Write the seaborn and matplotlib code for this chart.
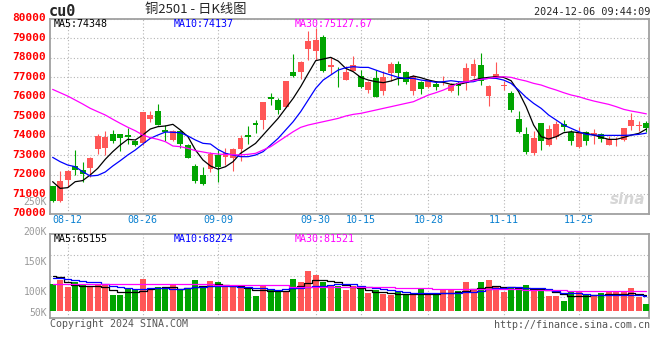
import matplotlib
matplotlib.use("Agg")
import matplotlib.pyplot as plt
import matplotlib.transforms as mtransforms
import numpy as np
import seaborn as sns

# trading days 08-08 .. 12-06, 80 candles
date_labels = ["08-12", "08-26", "09-09", "09-30", "10-15", "10-28", "11-11", "11-25"]
date_idx = [2, 12, 22, 35, 41, 50, 60, 70]

opens = [71440, 70652, 71730, 72450, 72245, 72330, 73340, 73390, 74075, 74075,
         74023, 73733, 73647, 74880, 75273, 74297, 73784, 74263, 73510, 72450,
         71988, 72300, 73020, 72893, 72859, 73338, 74023, 74656, 74828, 75975,
         75838, 75461, 77276, 77259, 78474, 78372, 79074, 77516, 76934, 76865,
         77345, 77053, 76369, 76968, 76317, 77225, 77687, 77276, 76283, 76762,
         76506, 76677, 76797, 76283, 76711, 76711, 77053, 77618, 76045, 77002,
         76540, 76197, 74862, 74092, 73116, 74657, 73544, 73920, 74605, 74194,
         73407, 74194, 74023, 74092, 73544, 73715, 73800, 74520, 74503, 74640]
highs = [71440, 72193, 72260, 73270, 72655, 72930, 74075, 74265, 74298, 74092,
         74400, 73785, 75205, 75273, 75650, 74554, 74300, 74290, 73561, 72570,
         72381, 73170, 73287, 73373, 73373, 74023, 74485, 74828, 75718, 76180,
         75940, 76831, 78200, 77824, 79365, 79536, 79193, 78029, 77516, 77567,
         78115, 77362, 76796, 77396, 77310, 77790, 77858, 77345, 77139, 76831,
         76934, 76797, 77088, 76711, 76797, 77738, 77944, 78252, 76600, 77790,
         76831, 76317, 75256, 74434, 74229, 74657, 74537, 74776, 74794, 74314,
         74468, 74263, 74348, 74126, 73972, 73920, 74400, 75170, 74776, 74742]
lows = [70600, 70618, 71388, 71988, 71645, 71900, 73066, 73015, 73613, 73237,
        73580, 73476, 73510, 74726, 74571, 73750, 73750, 73390, 72860, 71594,
        71474, 72165, 71630, 72517, 72208, 72688, 73578, 74143, 74348, 75564,
        75119, 75461, 77036, 76916, 77909, 77909, 77276, 77173, 76488, 76865,
        77310, 76454, 76198, 76009, 76112, 76797, 76626, 76677, 76112, 76163,
        76454, 76369, 76626, 76249, 76112, 76369, 76968, 76626, 75531, 76968,
        76369, 75222, 74143, 73064, 72996, 73287, 73458, 73852, 74263, 73544,
        73373, 73510, 73595, 73681, 73510, 73458, 73750, 74314, 74229, 74194]
closes = [70652, 71680, 72210, 72245, 72022, 72860, 73990, 73920, 73733, 73904,
          73955, 73510, 75205, 75050, 74571, 74194, 74263, 73579, 72877, 71696,
          71508, 73075, 72405, 73116, 73321, 73886, 73955, 74537, 75718, 75889,
          75342, 76831, 77088, 77790, 78885, 78920, 77344, 77618, 76899, 77276,
          77618, 76506, 76762, 76009, 77002, 77687, 77225, 76745, 77053, 76420,
          76882, 76523, 76831, 76626, 76574, 77481, 77687, 76797, 76559, 77173,
          76591, 75341, 74194, 73167, 73886, 73749, 74348, 74605, 74451, 73749,
          74194, 73749, 74126, 73852, 73852, 73749, 74400, 74828, 74537, 74400]

ma5 = [71645, 71300, 71337, 71643, 71700, 71990, 72330, 72793, 73187, 73530,
       73820, 73787, 74043, 74350, 74470, 74505, 74590, 74300, 73958, 73273,
       72760, 72450, 72290, 72414, 72670, 73100, 73355, 73612, 74040, 74470,
       74896, 75410, 75924, 76523, 77200, 77860, 77944, 78030, 77840, 77464,
       77293, 77000, 76865, 76780, 76730, 76814, 76950, 76950, 77070, 76985,
       76865, 76780, 76745, 76643, 76643, 76728, 76865, 76950, 77002, 77036,
       77002, 76831, 76266, 75495, 74554, 73955, 73835, 73955, 74160, 74212,
       74160, 74126, 74040, 73920, 73818, 73818, 73920, 74040, 74126, 74348]
ma10 = [72894, 72672, 72500, 72415, 72158, 71936, 71970, 72141, 72450, 72724,
        73015, 73272, 73580, 73871, 74040, 74195, 74180, 74160, 73990, 73786,
        73615, 73580, 73300, 73100, 73013, 72929, 72929, 73013, 73184, 73526,
        73868, 74297, 74725, 75239, 75838, 76437, 76865, 77122, 77378, 77498,
        77550, 77515, 77515, 77378, 77241, 77122, 77002, 76950, 76950, 76865,
        76814, 76746, 76780, 76831, 76780, 76760, 76780, 76900, 76950, 76950,
        76865, 76694, 76352, 75975, 75667, 75410, 75067, 74810, 74554, 74383,
        74212, 74075, 74040, 74023, 74023, 74023, 74023, 74040, 74075, 74137]
ma30 = [76385, 76214, 76043, 75840, 75634, 75413, 75240, 75070, 74850, 74640,
        74440, 74260, 74040, 73905, 73820, 73700, 73477, 73442, 73357, 73237,
        73170, 73100, 73065, 73040, 73030, 73020, 73050, 73100, 73270, 73440,
        73700, 73955, 74210, 74434, 74554, 74640, 74725, 74810, 74896, 75016,
        75102, 75153, 75239, 75324, 75410, 75495, 75581, 75667, 75752, 75924,
        76095, 76215, 76352, 76523, 76694, 76780, 76831, 76900, 76950, 77002,
        77036, 77002, 76900, 76814, 76694, 76609, 76472, 76352, 76215, 76095,
        76010, 75890, 75787, 75700, 75615, 75495, 75358, 75272, 75204, 75128]

volume = [109400, 117000, 105800, 113300, 108600, 105300, 109400, 108000, 92000, 92000,
          102000, 100000, 118600, 99700, 105000, 105000, 108600, 99700, 101700, 116700,
          105800, 115000, 113300, 108600, 107500, 108000, 102000, 90000, 106700, 102000,
          97500, 98000, 118600, 113300, 131700, 125000, 113300, 106100, 106667, 100000,
          106667, 106667, 95556, 99444, 93333, 91667, 98333, 93889, 95556, 101667,
          93889, 94444, 99444, 99444, 98333, 113333, 101667, 113333, 116667, 106667,
          96667, 104444, 105000, 108333, 103889, 101667, 90000, 90000, 81667, 96111,
          97222, 93889, 91667, 95556, 96111, 96111, 96111, 103889, 88889, 76667]
vol_ma5 = [123889, 121111, 113889, 108333, 107222, 107222, 107222, 105556, 100000, 97222,
           97222, 97222, 98333, 101667, 103889, 105000, 105556, 101667, 103889, 105556,
           106667, 107222, 109444, 108333, 107222, 107222, 103889, 100000, 100000, 98333,
           98333, 98333, 102778, 107222, 111111, 116667, 116667, 115556, 113889, 108333,
           105556, 102778, 100000, 97222, 96111, 94444, 92778, 92778, 92778, 93889,
           93889, 93889, 95000, 95000, 96111, 98333, 101667, 103889, 105556, 107222,
           105556, 104444, 103889, 102778, 101667, 101667, 99444, 96111, 92778, 90556,
           90000, 90000, 91667, 91667, 92778, 92778, 93889, 95000, 93889, 91667]
vol_ma10 = [120556, 119444, 118333, 116667, 115000, 113889, 112778, 110556, 107222, 105556,
            102778, 101667, 101667, 102778, 102778, 102778, 101667, 101667, 102778, 105000,
            105556, 106667, 107222, 107222, 106667, 105556, 105556, 103889, 102778, 101667,
            100000, 101667, 102778, 103889, 105000, 106111, 107222, 108333, 110000, 110000,
            109444, 107222, 105556, 103889, 101667, 100000, 98333, 96111, 95556, 95000,
            95000, 94444, 95000, 95556, 95556, 96111, 97222, 98333, 101667, 102778,
            103889, 104444, 104444, 103889, 103889, 102778, 101667, 98333, 95556, 94444,
            94444, 93333, 92222, 91667, 91667, 91111, 91111, 91667, 91667, 90556]
vol_ma30 = [109444, 109444, 109444, 109444, 109444, 109444, 109444, 109444, 109444, 109444,
            109444, 109444, 109444, 109444, 109444, 109444, 110000, 110000, 110000, 110000,
            110000, 110000, 108333, 108333, 108333, 108333, 108333, 108333, 108333, 108333,
            108333, 108333, 105000, 105000, 105000, 105000, 105000, 105000, 105556, 105556,
            105556, 105556, 104444, 104444, 104444, 104444, 103889, 103889, 103889, 103889,
            103889, 102222, 102222, 102222, 102222, 102222, 101667, 101667, 101667, 101667,
            101667, 101667, 101667, 99444, 99444, 99444, 99444, 99444, 99444, 97778,
            97778, 97778, 97778, 97778, 97778, 97778, 97778, 97778, 97778, 97778]
vol_base = 65000

vol_ticks = [250000, 200000, 150000, 100000, 65000]
vol_tick_labels = ["250K", "200K", "150K", "100K", "50K"]

UP = "#ff5656"
DOWN = "#00a400"
GRID = "#b4b4b4"
EDGE = "#a0a0a0"

sns.set_style("white")
plt.rcParams["font.family"] = ["DejaVu Sans Mono", "Noto Sans CJK SC"]

W, H = 660, 360
fig = plt.figure(figsize=(W / 100, H / 100), dpi=100)


def box(l, t, r, b):
    return [l / W, 1 - b / H, (r - l) / W, (b - t) / H]


def px(x, y):
    return x / W, 1 - y / H


ax = fig.add_axes(box(50, 19, 649, 213.7))
axv = fig.add_axes(box(50, 234, 649, 318))

idx = np.arange(len(closes))
o = np.array(opens)
c = np.array(closes)
colors = np.where(c >= o, UP, DOWN)

# candles
ax.vlines(idx, lows, highs, colors=colors, lw=0.8, zorder=3)
body_lo = np.minimum(o, c)
body_h = np.maximum(np.abs(c - o), 35)
ax.bar(idx, body_h, bottom=body_lo, width=0.78, color=colors, zorder=4, linewidth=0)

sns.lineplot(x=idx, y=ma5, ax=ax, color="black", lw=0.9, zorder=5, legend=False)
sns.lineplot(x=idx, y=ma10, ax=ax, color="#0000ff", lw=0.9, zorder=5, legend=False)
sns.lineplot(x=idx, y=ma30, ax=ax, color="#ff00ff", lw=0.9, zorder=5, legend=False)

ax.set_xlim(-0.35, len(closes) - 0.65)
ax.set_ylim(70000, 80000)
ax.set_yticks(range(70000, 80001, 1000))
ax.set_yticklabels([str(v) for v in range(70000, 80001, 1000)],
                   color="#ff0000", fontsize=8, fontweight="bold")
ax.set_xticks(date_idx)
ax.set_xticklabels(date_labels, color="#0a80d0", fontsize=7.2)
ax.tick_params(axis="y", length=0, pad=3)
ax.tick_params(axis="x", length=0, pad=1)
ax.grid(True, color=GRID, linestyle=(0, (1, 2)), lw=0.8)
ax.set_xlabel("")
ax.set_ylabel("")
# sina draws its price labels a little above the grid lines
lift = mtransforms.ScaledTranslation(0, 0.016, fig.dpi_scale_trans)
for lab in ax.get_yticklabels():
    lab.set_transform(lab.get_transform() + lift)

# volume
axv.bar(idx, np.array(volume) - vol_base, bottom=vol_base, width=0.8,
        color=colors, linewidth=0, zorder=3)
sns.lineplot(x=idx, y=vol_ma5, ax=axv, color="black", lw=0.9, zorder=5,
             legend=False, drawstyle="steps-mid")
sns.lineplot(x=idx, y=vol_ma10, ax=axv, color="#0000ff", lw=0.9, zorder=5,
             legend=False, drawstyle="steps-mid")
sns.lineplot(x=idx, y=vol_ma30, ax=axv, color="#ff00ff", lw=0.9, zorder=5,
             legend=False, drawstyle="steps-mid")
axv.set_xlim(ax.get_xlim())
axv.set_ylim(53333, 193333)
axv.set_xticks(date_idx)
axv.set_xticklabels([])
axv.set_yticks([88333, 123333, 158333])
axv.set_yticklabels([])
axv.tick_params(length=0)
axv.grid(True, color=GRID, linestyle=(0, (1, 2)), lw=0.8)
axv.set_xlabel("")
axv.set_ylabel("")

drop = mtransforms.ScaledTranslation(0, -0.018, fig.dpi_scale_trans)
trans = mtransforms.blended_transform_factory(fig.transFigure, axv.transData) + drop
for v, lab in zip(vol_ticks, vol_tick_labels):
    axv.text(47 / W, v, lab, transform=trans, ha="right", va="center",
             color="#9a9a9a", fontsize=7, clip_on=False, zorder=10)

for a in (ax, axv):
    for s in a.spines.values():
        s.set_color(EDGE)
        s.set_linewidth(1.3)

# header texts
fig.text(*px(49, 11), "cu0", fontsize=11, fontweight="bold", va="center", ha="left")
fig.text(*px(196, 9), "铜2501 - 日K线图", fontsize=9.5, va="center", ha="center",
         family=["Noto Sans CJK SC", "DejaVu Sans"])
fig.text(*px(650, 12), "2024-12-06 09:44:09", fontsize=7.3, va="center", ha="right")

fig.text(*px(54, 24), "MA5:74348", fontsize=7.2, color="black", va="center")
fig.text(*px(174, 24), "MA10:74137", fontsize=7.2, color="#0000ff", va="center")
fig.text(*px(295, 24), "MA30:75127.67", fontsize=7.2, color="#ff00ff", va="center")

fig.text(*px(54, 239), "MA5:65155", fontsize=7.2, color="black", va="center")
fig.text(*px(174, 239), "MA10:68224", fontsize=7.2, color="#0000ff", va="center")
fig.text(*px(295, 239), "MA30:81521", fontsize=7.2, color="#ff00ff", va="center")

fig.text(*px(50, 324), "Copyright 2024 SINA.COM", fontsize=7.2, color="#555555", va="center")
fig.text(*px(650, 325), "http://finance.sina.com.cn", fontsize=7.2, color="#555555",
         va="center", ha="right")
fig.text(*px(645, 199), "sina", fontsize=11, fontweight="bold", style="italic",
         color="#d6d6d6", va="center", ha="right", family="DejaVu Sans")

fig.savefig("out.png", dpi=100)
